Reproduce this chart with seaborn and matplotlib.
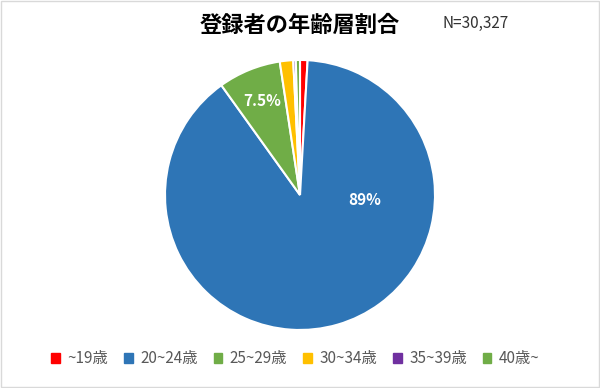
import matplotlib
matplotlib.use("Agg")
import matplotlib.pyplot as plt
import seaborn as sns
import numpy as np
from matplotlib.patches import Rectangle, Patch

categories = ["~19歳", "20~24歳", "25~29歳", "30~34歳", "35~39歳", "40歳~"]
values = [0.9, 89.2, 7.5, 1.6, 0.3, 0.5]
labels_shown = ["", "89%", "7.5%", "", "", ""]
colors = ["#FF0000", "#2E75B6", "#70AD47", "#FFC000", "#7030A0", "#70AD47"]

sns.set_theme(style="white")
plt.rcParams['font.family'] = ['Noto Sans CJK JP', 'DejaVu Sans']

fig = plt.figure(figsize=(6, 3.88), dpi=100)
ax = fig.add_axes([0.275, 0.1495, 0.45, 0.696])
palette = sns.color_palette(colors)
wedges, _ = ax.pie(values, colors=palette, startangle=90, counterclock=False,
                   wedgeprops=dict(edgecolor="white", linewidth=1.5))
ax.set_xlim(-1, 1)
ax.set_ylim(-1, 1)
ax.set_aspect("equal")
cum = np.cumsum([0] + values)
for i, lab in enumerate(labels_shown):
    if not lab:
        continue
    mid = 90 - (cum[i] + values[i] / 2) / 100 * 360
    if values[i] > 50:
        x, y = 0.48, -0.04
    else:
        r = 0.75
        x, y = r * np.cos(np.radians(mid)), r * np.sin(np.radians(mid))
    ax.text(x, y, lab, color="white", fontsize=11, fontweight="bold",
            ha="center", va="center")

fig.text(0.5, 0.935, "登録者の年齢層割合", fontsize=16, fontweight="bold",
         ha="center", va="center", color="black")
fig.text(0.738, 0.94, "N=30,327", fontsize=11, ha="left", va="center", color="#333333")

handles = [Patch(facecolor=c, edgecolor=c) for c in colors]
fig.legend(handles, categories, loc="center", bbox_to_anchor=(0.4925, 0.075), ncol=6,
           frameon=False, fontsize=11, handlelength=0.55, handleheight=0.55,
           handletextpad=0.5, columnspacing=1.05, labelcolor="#595959")

fig.add_artist(Rectangle((0.002, 0.003), 0.996, 0.994, transform=fig.transFigure,
                         fill=False, edgecolor="#D9D9D9", linewidth=1))
fig.savefig("out.png", dpi=100)
